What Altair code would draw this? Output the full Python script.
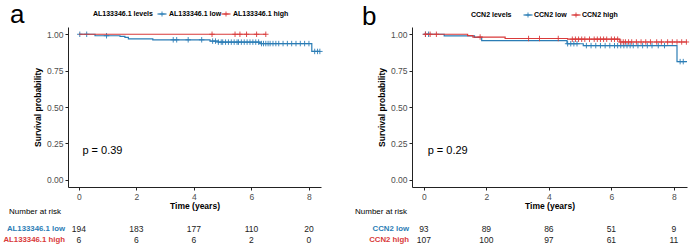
import altair as alt
import pandas as pd
import numpy as np

FONT = "Liberation Sans"
BLUE = "#2B7DB5"
RED = "#D93A3A"
CROSS = "M-1,0L1,0M0,-1L0,1"

RISK_TIMES = [0, 2, 4, 6, 8]
Y_TICKS = [0, 0.25, 0.5, 0.75, 1.0]

# ---------------- Panel a ----------------
A_LETTER = "a"
A_TITLE = "AL133346.1 levels"
A_GROUPS = ["AL133346.1 low", "AL133346.1 high"]
A_LOW_T = [0, 0.56, 1.43, 1.6, 1.72, 2.57, 4.56, 4.85, 6.3, 8.1, 8.38]
A_LOW_S = [1.0, 0.99, 0.985, 0.979, 0.969, 0.962, 0.953, 0.946, 0.936, 0.882, 0.882]
A_LOW_C = [0.03, 0.27, 0.96, 3.28, 3.4, 3.8, 4.27, 4.65, 4.75, 4.85, 4.95, 5.0, 5.1,
           5.2, 5.3, 5.4, 5.5, 5.55, 5.65, 5.75, 5.85, 5.95, 6.05, 6.15, 6.25, 6.35,
           6.42, 6.5, 6.58, 6.65, 6.75, 6.85, 6.95, 7.1, 7.25, 7.4, 7.55, 7.7, 7.85,
           8.0, 8.2, 8.3, 8.38]
A_HIGH_T = [0, 6.5]
A_HIGH_S = [1.0, 1.0]
A_HIGH_C = [4.63, 5.43, 5.6, 5.83, 6.18, 6.5]
A_RISK_LOW = [194, 183, 177, 110, 20]
A_RISK_HIGH = [6, 6, 6, 2, 0]
A_P = "p = 0.39"

# ---------------- Panel b ----------------
B_LETTER = "b"
B_TITLE = "CCN2 levels"
B_GROUPS = ["CCN2 low", "CCN2 high"]
B_LOW_T = [0, 0.65, 1.62, 1.85, 4.58, 5.1, 8.1, 8.42]
B_LOW_S = [1.0, 0.989, 0.978, 0.957, 0.935, 0.922, 0.812, 0.812]
B_LOW_C = [0.05, 0.15, 4.6, 4.7, 4.8, 4.9, 5.2, 5.35, 5.5, 5.65, 5.8, 5.95, 6.1, 6.2,
           6.3, 6.4, 6.5, 6.6, 6.7, 6.85, 7.0, 7.15, 7.3, 7.5, 7.7, 8.2, 8.3]
B_HIGH_T = [0, 1.4, 1.57, 2.6, 4.6, 6.27, 8.42]
B_HIGH_S = [1.0, 0.991, 0.981, 0.971, 0.966, 0.947, 0.947]
B_HIGH_C = [0.05, 0.2, 0.4, 1.8, 3.35, 3.7, 4.3, 4.75, 4.85, 4.95, 5.05, 5.15, 5.3,
            5.45, 5.55, 5.65, 5.75, 5.85, 6.0, 6.1, 6.2, 6.3, 6.38, 6.45, 6.55, 6.65,
            6.8, 6.95, 7.1, 7.25, 7.45, 7.6, 7.8, 7.95, 8.1, 8.25, 8.4]
B_RISK_LOW = [93, 89, 86, 51, 9]
B_RISK_HIGH = [107, 100, 97, 61, 11]
B_P = "p = 0.29"

XS = alt.Scale(domain=[-0.38, 8.42], nice=False, zero=False)
YS = alt.Scale(domain=[-0.05, 1.05], nice=False, zero=False)

XAXIS = alt.Axis(values=RISK_TIMES, title="Time (years)", grid=False, domainColor="#222222",
                 tickColor="#222222", tickSize=3, labelFontSize=8.5, labelColor="#4d4d4d",
                 labelFont=FONT, titleFont=FONT, titleFontSize=8.5, titleFontWeight="bold",
                 titleColor="#000000", labelPadding=2, titlePadding=1, format="d")
YAXIS = alt.Axis(values=Y_TICKS, title="Survival probability", grid=False, domainColor="#222222",
                 tickColor="#222222", tickSize=3, labelFontSize=8.5, labelColor="#4d4d4d",
                 labelFont=FONT, titleFont=FONT, titleFontSize=8.5, titleFontWeight="bold",
                 titleColor="#000000", labelPadding=2, titlePadding=4, format=".2f")

X = alt.X("t:Q", scale=XS, axis=XAXIS)
Y = alt.Y("s:Q", scale=YS, axis=YAXIS)


def censor_df(ts, ss, cs):
    ts = np.array(ts)
    idx = np.searchsorted(ts, np.array(cs), side="right") - 1
    return pd.DataFrame({"t": cs, "s": np.array(ss)[idx]})


def one(**kw):
    return pd.DataFrame({k: [v] for k, v in kw.items()})


def panel(letter, title, groups, lt, ls, lc, ht, hs, hc, rl, rh, ptext,
          width, pos, letter_x, letter_y, nar_x, bbox=False):
    layers = []
    for (t, s, c, col) in [(lt, ls, lc, BLUE), (ht, hs, hc, RED)]:
        layers.append(alt.Chart(pd.DataFrame({"t": t, "s": s})).mark_line(
            interpolate="step-after", strokeWidth=1.2, color=col).encode(x=X, y=Y))
        layers.append(alt.Chart(censor_df(t, s, c)).mark_point(
            shape=CROSS, size=30, filled=False, strokeWidth=0.9, color=col, opacity=1
        ).encode(x=X, y=Y))
    # p-value
    layers.append(alt.Chart(one(t=0.12, s=0.2, label=ptext)).mark_text(
        align="left", baseline="middle", font=FONT, fontSize=11, color="#000000"
    ).encode(x=X, y=Y, text="label:N"))
    # legend
    tx, k1, l1, k2, l2, ly = pos
    layers.append(alt.Chart(one(label=title)).mark_text(
        align="left", baseline="middle", font=FONT, fontSize=7, fontWeight="bold",
        color="#000000").encode(x=alt.value(tx), y=alt.value(ly), text="label:N"))
    for kx, lx, g, col in [(k1, l1, groups[0], BLUE), (k2, l2, groups[1], RED)]:
        layers.append(alt.Chart(one(label=g)).mark_rule(color=col, strokeWidth=1.2).encode(
            x=alt.value(kx - 4.5), x2=alt.value(kx + 4.5), y=alt.value(ly)))
        layers.append(alt.Chart(one(label=g)).mark_point(
            shape=CROSS, size=25, filled=False, strokeWidth=0.9, color=col, opacity=1).encode(
            x=alt.value(kx), y=alt.value(ly)))
        layers.append(alt.Chart(one(label=g)).mark_text(
            align="left", baseline="middle", font=FONT, fontSize=7, fontWeight="bold",
            color="#000000").encode(x=alt.value(lx), y=alt.value(ly), text="label:N"))
    # panel letter
    layers.append(alt.Chart(one(label=letter)).mark_text(
        align="left", baseline="alphabetic", font=FONT, fontSize=26, color="#000000").encode(
        x=alt.value(letter_x), y=alt.value(letter_y), text="label:N"))
    # risk table
    layers.append(alt.Chart(one(label="Number at risk")).mark_text(
        align="left", baseline="middle", font=FONT, fontSize=8, color="#000000").encode(
        x=alt.value(nar_x), y=alt.value(185), text="label:N"))
    for g, vals, col, ry in [(groups[0], rl, BLUE, 202), (groups[1], rh, RED, 213)]:
        layers.append(alt.Chart(one(label=g)).mark_text(
            align="right", baseline="middle", font=FONT, fontSize=7.8, fontWeight="bold",
            color=col).encode(x=alt.value(-3), y=alt.value(ry), text="label:N"))
        layers.append(alt.Chart(pd.DataFrame({"t": RISK_TIMES, "n": vals})).mark_text(
            align="center", baseline="middle", font=FONT, fontSize=8.5, color="#222222").encode(
            x=X, y=alt.value(ry), text="n:Q"))
    if bbox:
        layers.append(alt.Chart(one(label="")).mark_rect(
            fillOpacity=0, strokeOpacity=0, fill="white").encode(
            x=alt.value(-68), x2=alt.value(623), y=alt.value(-27), y2=alt.value(221)))
    return alt.layer(*layers).properties(width=width, height=160)


pa = panel(A_LETTER, A_TITLE, A_GROUPS, A_LOW_T, A_LOW_S, A_LOW_C, A_HIGH_T, A_HIGH_S,
           A_HIGH_C, A_RISK_LOW, A_RISK_HIGH, A_P, 253,
           (25, 94, 101, 158, 165, -13), -58, -4, -59, bbox=True)
pb = panel(B_LETTER, B_TITLE, B_GROUPS, B_LOW_T, B_LOW_S, B_LOW_C, B_HIGH_T, B_HIGH_S,
           B_HIGH_C, B_RISK_LOW, B_RISK_HIGH, B_P, 275,
           (59, 116, 122, 164, 170, -12), -50, -2, -57)

chart = alt.hconcat(pa, pb, spacing=91, bounds="flush").properties(
    padding=0, background="white"
).configure_view(stroke=None)

chart.save("out.html", embed_options={"renderer": "svg", "actions": False})
